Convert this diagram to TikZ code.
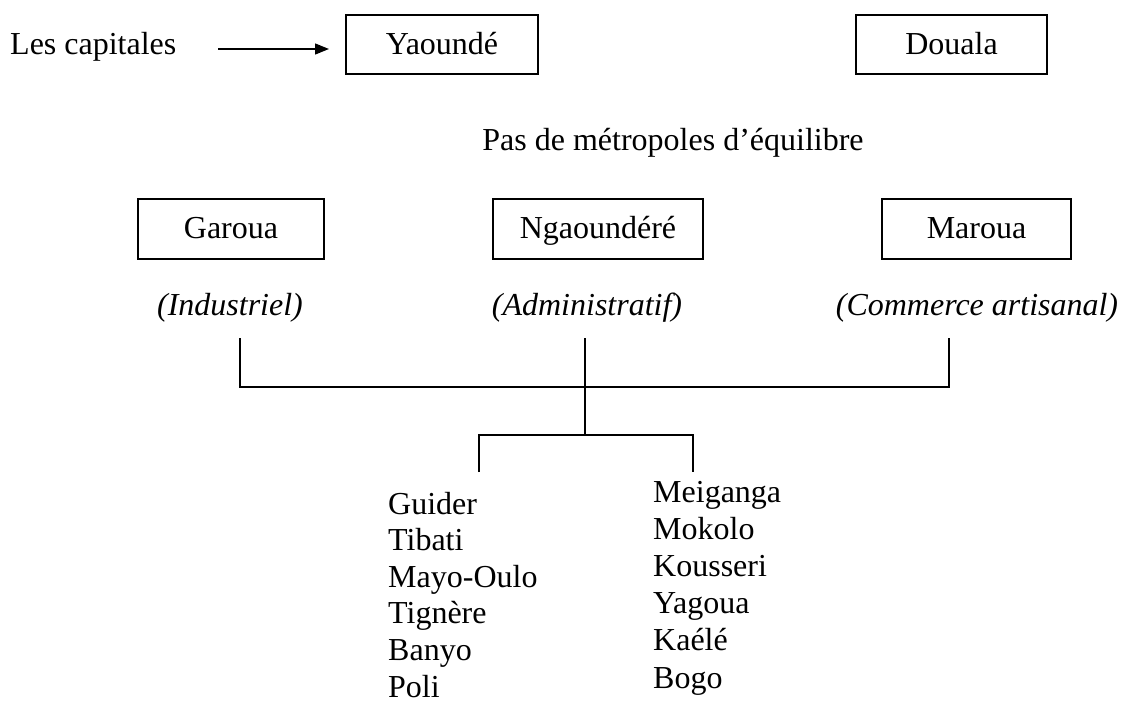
\documentclass[tikz,border=0pt]{standalone}
\usepackage{fontspec}
\setmainfont{Liberation Serif}
\usetikzlibrary{arrows.meta}
\tikzset{
  cbox/.style={draw, line width=1.3pt, inner sep=0pt},
  txt/.style={inner sep=0pt, text height=20pt, text depth=1pt, font=\fontsize{32}{38}\selectfont},
  itl/.style={txt, font=\fontsize{32}{38}\selectfont\itshape},
  lst/.style={inner sep=0pt, anchor=base west, font=\fontsize{32}{38}\selectfont},
  ln/.style={line width=1.4pt},
}
\begin{document}
\begin{tikzpicture}[x=1pt,y=-1pt]
\useasboundingbox (0,0) rectangle (1123,704);
% top row
\node[txt, anchor=west] (cap) at (10,44.5) {Les capitales};
\node[cbox, txt, minimum width=192pt, minimum height=59pt] (yaounde) at (442,44.5) {Yaoundé};
\node[cbox, txt, minimum width=191pt, minimum height=59pt] (douala) at (951.5,44.5) {Douala};
\coordinate (a1) at (218,49);
\coordinate (a2) at (329,49);
\draw[ln, -{Triangle[length=14pt,width=11pt]}] (a1) -- (a2);
% middle
\node[txt] (pas) at (673,141) {Pas de métropoles d’équilibre};
\node[cbox, txt, minimum width=186pt, minimum height=60pt] (garoua) at (231,229) {Garoua};
\node[cbox, txt, minimum width=210pt, minimum height=60pt] (ngaoundere) at (598,229) {Ngaoundéré};
\node[cbox, txt, minimum width=189pt, minimum height=60pt] (maroua) at (976.5,229) {Maroua};
\node[itl] (ind) at (230,306) {(Industriel)};
\node[itl] (adm) at (587,306) {(Administratif)};
\node[itl] (com) at (977,306) {(Commerce artisanal)};
% tree lines
\coordinate (g1) at (240,338);
\coordinate (g2) at (240,387);
\coordinate (m1) at (949,338);
\coordinate (m2) at (949,387);
\coordinate (n1) at (585,338);
\coordinate (n2) at (585,435);
\coordinate (l1) at (479,435);
\coordinate (l2) at (479,472);
\coordinate (r1) at (693,435);
\coordinate (r2) at (693,472);
\draw[ln] (g1) -- (g2) -- (m2) -- (m1);
\draw[ln] (n1) -- (n2);
\draw[ln] (l2) -- (l1) -- (r1) -- (r2);
% lists
\foreach \t [count=\i] in {Guider,Tibati,Mayo-Oulo,Tignère,Banyo,Poli}
  \node[lst] (left\i) at (388,{514+36.6*(\i-1)}) {\t};
\foreach \t [count=\i] in {Meiganga,Mokolo,Kousseri,Yagoua,Kaélé,Bogo}
  \node[lst] (right\i) at (653,{502+37.2*(\i-1)}) {\t};
\end{tikzpicture}
\end{document}
